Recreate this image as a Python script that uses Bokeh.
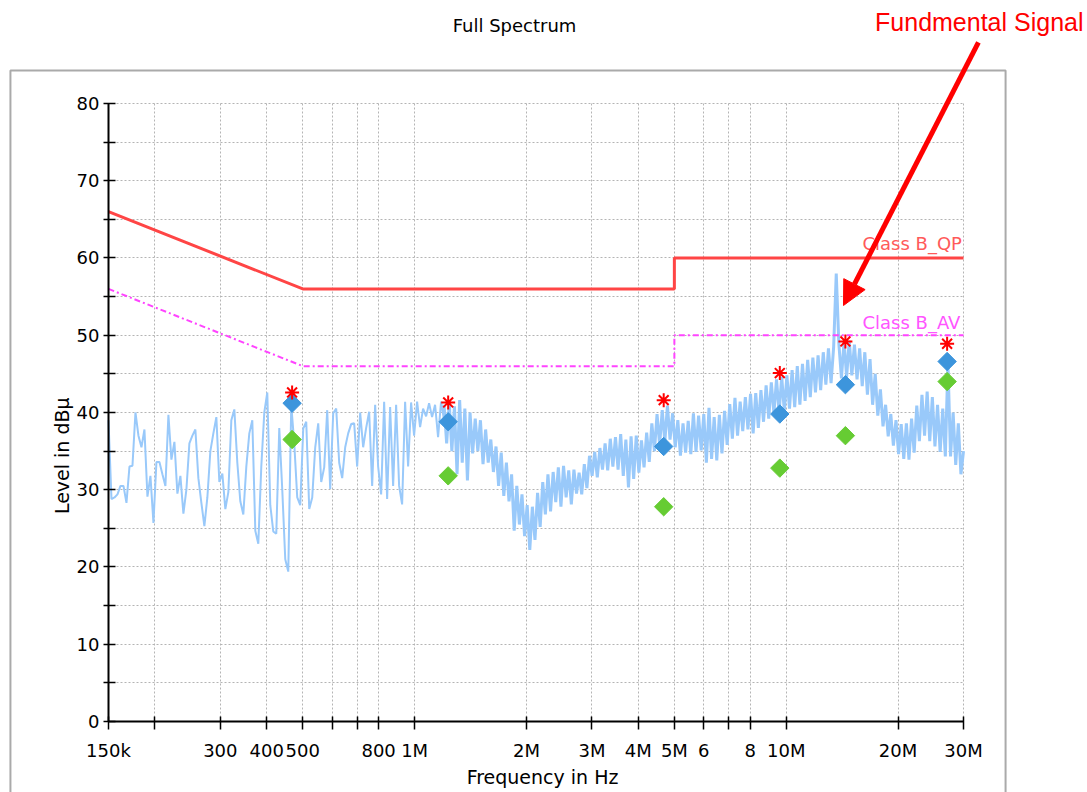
import numpy as np
from bokeh.plotting import figure
from bokeh.models import Range1d, FixedTicker, Label, Arrow, NormalHead, BoxAnnotation, Grid
from bokeh.embed import file_html
from bokeh.resources import INLINE

# ---------------- data ----------------
# spectrum sweep, part A: 150 kHz .. 1.2 MHz (level in dBuV)
sweep_a_start, sweep_a_stop = 150e3, 1.2e6
sweep_a_level = [
    39.0, 28.8, 29.0, 29.4, 30.5, 30.5, 28.3, 33.0, 33.1, 40.0,
    37.0, 35.5, 37.8, 29.1, 31.8, 25.7, 33.6, 33.6, 32.0, 30.5,
    39.7, 33.9, 36.2, 29.5, 31.8, 26.9, 30.0, 36.0, 37.0, 37.8,
    31.5, 28.3, 25.3, 29.0, 35.0, 37.3, 39.4, 31.0, 32.1, 27.5,
    29.7, 39.0, 40.4, 33.5, 28.5, 26.8, 33.0, 37.3, 39.0, 24.7,
    23.0, 33.0, 40.0, 42.6, 28.0, 24.6, 24.3, 38.0, 30.0, 21.0,
    19.4, 41.0, 36.0, 29.0, 28.0, 37.9, 38.8, 27.5, 29.0, 35.5,
    38.6, 31.0, 32.9, 40.3, 30.1, 39.9, 40.5, 33.5, 31.5, 35.5,
    37.3, 38.5, 38.6, 33.0, 40.0, 35.5, 38.0, 40.1, 30.5, 41.0,
    33.0, 29.4, 41.4, 28.8, 40.7, 30.5, 41.0, 30.5, 28.1, 41.4,
    33.0, 41.3, 37.0, 41.4, 38.1, 40.5, 39.5, 41.2, 39.4, 41.0,
    36.8, 41.4, 39.0,
]
# spectrum sweep, part B: 1.2 MHz .. 30 MHz
sweep_b_start, sweep_b_stop = 1.2e6, 30e6
sweep_b_level = [
    41.0, 36.0, 41.2, 35.0, 40.8, 32.0, 41.6, 33.5, 40.5, 31.2,
    40.0, 34.7, 39.2, 35.0, 39.0, 33.3, 37.8, 33.5, 36.5, 32.3,
    35.6, 30.5, 34.8, 29.2, 33.5, 28.5, 32.0, 24.7, 30.5, 25.5,
    29.4, 24.0, 28.0, 22.2, 27.8, 23.5, 29.6, 25.2, 31.0, 26.8,
    32.0, 27.2, 32.3, 28.4, 32.9, 27.8, 33.1, 29.0, 32.5, 28.1,
    32.6, 29.5, 32.2, 29.4, 33.3, 30.2, 34.4, 31.8, 34.9, 31.6,
    35.4, 32.6, 36.0, 32.5, 36.6, 33.0, 36.8, 32.6, 37.2, 31.8,
    36.5, 30.3, 36.9, 31.4, 37.0, 32.2, 36.4, 32.9, 37.4, 33.6,
    38.6, 35.0, 39.8, 35.8, 40.3, 36.2, 40.9, 36.5, 39.9, 35.5,
    39.0, 34.4, 38.6, 34.8, 38.9, 34.6, 39.9, 34.9, 39.6, 35.1,
    39.8, 33.5, 40.6, 34.0, 39.4, 33.8, 39.7, 34.7, 40.2, 35.8,
    41.1, 36.6, 41.9, 37.0, 41.4, 37.6, 42.0, 37.8, 42.4, 37.3,
    42.5, 38.0, 42.9, 38.8, 43.5, 39.2, 43.9, 39.9, 44.3, 40.0,
    44.6, 40.2, 44.8, 40.5, 45.5, 40.7, 46.0, 41.0, 46.3, 41.5,
    46.8, 42.0, 47.1, 42.6, 47.4, 42.9, 47.8, 43.6, 48.3, 43.8,
    48.5, 58.0, 48.9, 44.4, 49.2, 44.6, 49.3, 44.8, 48.8, 44.3,
    48.3, 43.4, 47.8, 42.3, 46.9, 41.0, 45.0, 39.6, 43.0, 38.2,
    41.0, 36.9, 39.8, 35.7, 39.0, 34.6, 38.5, 34.0, 38.6, 33.9,
    39.2, 34.8, 40.9, 36.3, 42.3, 37.0, 42.7, 36.3, 42.0, 35.6,
    41.0, 34.9, 40.5, 34.3, 46.5, 34.3, 40.0, 33.2, 38.6, 32.0,
    35.0,
]

# limit lines (class B)
limit_freq = [150e3, 500e3, 5e6, 5e6, 30e6]
qp_limit = [66, 56, 56, 60, 60]
av_limit = [56, 46, 46, 50, 50]

# final measurement points
meas_freq = [468e3, 1.231e6, 4.68e6, 9.61e6, 14.43e6, 27.1e6]
peak_level = [42.6, 41.3, 41.6, 45.1, 49.2, 48.9]
qp_level = [41.2, 38.8, 35.6, 39.8, 43.6, 46.6]
av_level = [36.5, 31.8, 27.8, 32.8, 37.0, 44.0]

x_ticks = [150e3, 200e3, 300e3, 400e3, 500e3, 600e3, 700e3, 800e3, 1e6,
           2e6, 3e6, 4e6, 5e6, 6e6, 7e6, 8e6, 10e6, 20e6, 30e6]
x_labels = ["150k", "", "300", "400", "500", "", "", "800", "1M",
            "2M", "3M", "4M", "5M", "6", "", "8", "10M", "20M", "30M"]
y_ticks = [0, 10, 20, 30, 40, 50, 60, 70, 80]
y_minor = [5, 15, 25, 35, 45, 55, 65, 75]
x_span = (150e3, 30e6)
y_span = (0, 80)

# ---------------- figure ----------------
freq_a = np.geomspace(sweep_a_start, sweep_a_stop, len(sweep_a_level))
freq_b = np.geomspace(sweep_b_start, sweep_b_stop, len(sweep_b_level))

# the frame spans the whole canvas; axes are pinned at the plot's data edges
p = figure(width=1087, height=792, x_axis_type="log",
           x_range=Range1d(76.82e3, 64.68e6), y_range=Range1d(-9.19, 93.33),
           output_backend="svg", toolbar_location=None, title=None,
           min_border=0)
p.outline_line_color = None
p.background_fill_color = "white"
p.border_fill_color = "white"

xt = FixedTicker(ticks=x_ticks, minor_ticks=[])
yt = FixedTicker(ticks=y_ticks, minor_ticks=y_minor)
p.xaxis.ticker = xt
p.yaxis.ticker = yt
p.xgrid.ticker = xt
p.ygrid.ticker = yt
p.xaxis.major_label_overrides = {t: l for t, l in zip(x_ticks, x_labels)}
p.xaxis.fixed_location = y_span[0]
p.yaxis.fixed_location = x_span[0]
p.xaxis.bounds = x_span
p.yaxis.bounds = y_span

for ax in (p.xaxis, p.yaxis):
    ax.axis_line_width = 2
    ax.axis_line_color = "black"
    ax.major_tick_line_width = 1.5
    ax.minor_tick_line_width = 1.5
    ax.major_tick_line_color = "black"
    ax.minor_tick_line_color = "black"
    ax.major_label_text_font = "DejaVu Sans"
    ax.major_label_text_font_size = "18px"
    ax.major_label_text_color = "black"

p.xaxis.major_tick_in = 5
p.xaxis.major_tick_out = 8
p.xaxis.major_label_standoff = 10
p.yaxis.major_tick_in = 7
p.yaxis.major_tick_out = 5
p.yaxis.minor_tick_in = 7
p.yaxis.minor_tick_out = 5
p.yaxis.major_label_standoff = 4

grid_col = "#b4b4b4"
if "cross_bounds" in Grid.properties():
    p.xgrid.cross_bounds = y_span
    p.ygrid.cross_bounds = x_span
    p.xgrid.grid_line_color = grid_col
    p.xgrid.grid_line_dash = "2 2"
    p.xgrid.grid_line_width = 1
    p.ygrid.grid_line_color = grid_col
    p.ygrid.grid_line_dash = "2 2"
    p.ygrid.grid_line_width = 1
    p.ygrid.minor_grid_line_color = grid_col
    p.ygrid.minor_grid_line_dash = "2 2"
    p.ygrid.minor_grid_line_width = 1
else:
    p.xgrid.grid_line_color = None
    p.ygrid.grid_line_color = None
    gy = sorted(y_ticks + y_minor)
    p.segment(x0=x_ticks, x1=x_ticks, y0=[y_span[0]] * len(x_ticks), y1=[y_span[1]] * len(x_ticks),
              line_color=grid_col, line_dash="2 2", line_width=1)
    p.segment(x0=[x_span[0]] * len(gy), x1=[x_span[1]] * len(gy), y0=gy, y1=gy,
              line_color=grid_col, line_dash="2 2", line_width=1)

# outer frame box
p.add_layout(BoxAnnotation(left=81.7e3, right=38.93e6, top=84.27, bottom=-20,
                           fill_alpha=0, line_color="#aaaaaa", line_alpha=1.0,
                           line_width=2, level="underlay"))

# spectrum
p.line(freq_a, sweep_a_level, line_color="#99c9fa", line_width=2)
p.line(freq_b, sweep_b_level, line_color="#99c9fa", line_width=3)

# limits
p.line(limit_freq, qp_limit, line_color="#ff4545", line_width=3)
p.line(limit_freq, av_limit, line_color="#ff44ff", line_width=2, line_dash="6 3 2 3")

# markers
p.scatter(meas_freq, av_level, marker="square", angle=np.pi / 4, size=13,
          fill_color="#66cc33", line_color="#66cc33")
p.scatter(meas_freq, qp_level, marker="square", angle=np.pi / 4, size=13,
          fill_color="#3d95dc", line_color="#3d95dc")
p.scatter(meas_freq, peak_level, marker="asterisk", size=14,
          line_color="#ff0000", line_width=2)

# texts
p.add_layout(Label(x=16.04e6, y=61.9, text="Class B_QP", text_font="DejaVu Sans",
                   text_font_size="18px", text_color="#ff5a5a",
                   text_baseline="middle", text_align="left"))
p.add_layout(Label(x=16.04e6, y=51.6, text="Class B_AV", text_font="DejaVu Sans",
                   text_font_size="18px", text_color="#ff55ff",
                   text_baseline="middle", text_align="left"))
p.add_layout(Label(x=1.857e6, y=90.1, text="Full Spectrum", text_font="DejaVu Sans",
                   text_font_size="18px", text_color="black",
                   text_baseline="middle", text_align="center"))
p.add_layout(Label(x=112.8e3, y=34.4, text="Level in dBµ", text_font="DejaVu Sans",
                   text_font_size="19px", text_color="black", angle=np.pi / 2,
                   text_baseline="middle", text_align="center"))
p.add_layout(Label(x=2.209e6, y=-7.2, text="Frequency in Hz", text_font="DejaVu Sans",
                   text_font_size="19px", text_color="black",
                   text_baseline="middle", text_align="center"))
p.add_layout(Label(x=63.1e6, y=90.5, text="Fundmental Signal", text_font="Liberation Sans",
                   text_font_size="25px", text_color="#ff0000",
                   text_baseline="middle", text_align="right"))

# arrow pointing at the fundamental
p.add_layout(Arrow(end=NormalHead(size=24, fill_color="#ff0000", line_color="#ff0000"),
                   x_start=32.9e6, y_start=87.9, x_end=14.26e6, y_end=53.85,
                   line_color="#ff0000", line_width=5))

open("out.html", "w").write(file_html(p, INLINE))
